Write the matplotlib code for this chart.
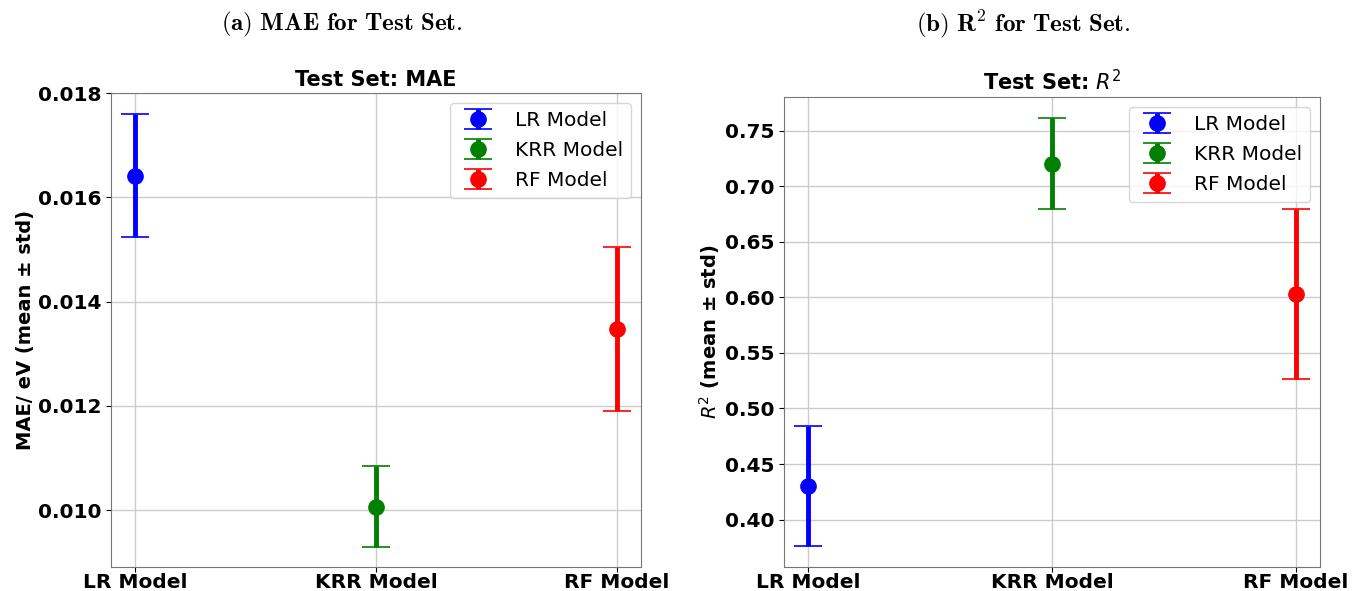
import matplotlib.pyplot as plt

models = ['LR Model', 'KRR Model', 'RF Model']
colors = ['blue', 'green', 'red']

mae_mean = [0.01641, 0.01007, 0.01348]
mae_std = [0.00118, 0.00077, 0.00157]

r2_mean = [0.4306, 0.7200, 0.6033]
r2_std = [0.0540, 0.0410, 0.0765]

fig = plt.figure(figsize=(13.52, 5.91), dpi=100)
ax1 = fig.add_axes([0.0821, 0.0406, 0.392, 0.802])
ax2 = fig.add_axes([0.5799, 0.0406, 0.3964, 0.7953])


def draw(ax, means, stds, title, ylabel):
    for m, mu, sd, c in zip(models, means, stds, colors):
        ax.errorbar(m, mu, yerr=sd, fmt='o', color=c, ecolor=c, capsize=10,
                    markersize=11, elinewidth=3.5, capthick=1.2, label=m)
    ax.set_title(title, fontsize=15, fontweight='bold', pad=5)
    ax.set_ylabel(ylabel, fontsize=14, fontweight='bold', labelpad=2)
    ax.grid(True, color='#cccccc', linewidth=1)
    ax.set_axisbelow(True)
    for s in ax.spines.values():
        s.set_color('#777777')
    ax.tick_params(axis='x', pad=1)
    for lab in ax.get_xticklabels() + ax.get_yticklabels():
        lab.set_fontsize(14.5)
        lab.set_fontweight('bold')
    ax.legend(loc='upper right', fontsize=14.5, labelspacing=0.55)


draw(ax1, mae_mean, mae_std, 'Test Set: MAE', 'MAE/ eV (mean ± std)')
draw(ax2, r2_mean, r2_std, 'Test Set: $R^2$', '$R^2$ (mean ± std)')
ax1.set_ylim(0.00891, 0.018)

fig.text(0.253, 0.958, r'$\mathbf{(a)\ MAE\ for\ Test\ Set.}$', ha='center', va='center',
         fontsize=18, math_fontfamily='cm')
fig.text(0.757, 0.958, r'$\mathbf{(b)\ R^2\ for\ Test\ Set.}$', ha='center', va='center',
         fontsize=18, math_fontfamily='cm')

fig.savefig('out.png', dpi=100)
